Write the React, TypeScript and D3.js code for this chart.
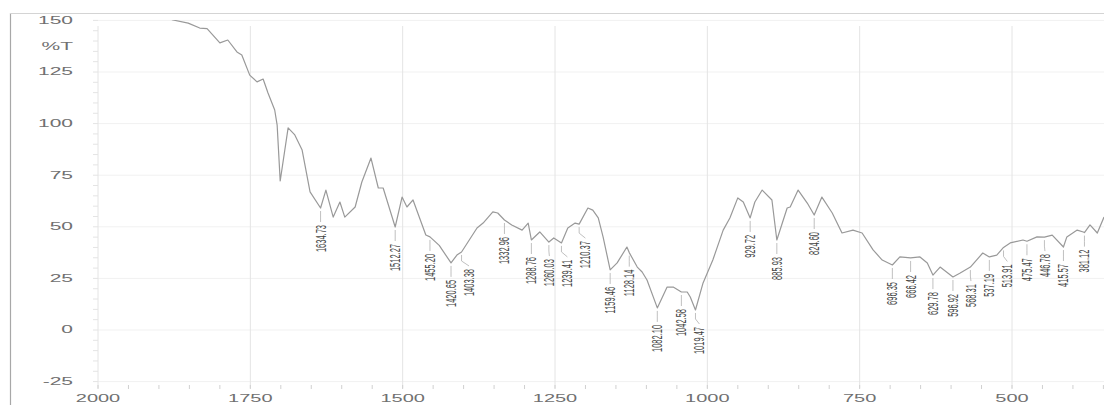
import React from "react";
import * as d3 from "d3";

// IR spectrum: wavenumber (cm-1) vs %T
const wavenumbers = [
  1900, 1877, 1852, 1833, 1821, 1800, 1787, 1772, 1764, 1751, 1739, 1729, 1721, 1710, 1706, 1701,
  1688, 1677, 1665, 1652, 1634.73, 1626, 1614, 1603, 1595, 1578, 1567, 1552, 1540, 1532, 1512.27,
  1501, 1493, 1483, 1462, 1455.2, 1440, 1420.65, 1411, 1403.38, 1378, 1368, 1352, 1344, 1332.96,
  1321, 1304, 1294, 1288.76, 1275, 1260.03, 1252, 1239.41, 1229, 1217, 1210.37, 1196, 1188, 1179,
  1171, 1159.46, 1148, 1132, 1128.14, 1115, 1107, 1099, 1082.1, 1066, 1056, 1042.58, 1033, 1028,
  1019.47, 1007, 991, 974, 963, 950, 941, 929.72, 922, 910, 894, 885.93, 869, 864, 851, 836, 824.6,
  812, 795, 779, 761, 746, 728, 713, 696.35, 684, 666.42, 651, 639, 629.78, 618, 596.92, 585,
  568.31, 548, 537.19, 525, 513.91, 503, 482, 475.47, 459, 446.78, 434, 415.57, 410, 393, 383,
  381.12, 372, 360, 349,
];

const transmittance = [
  153, 150.2, 148.7, 146.3, 146.0, 139.1, 140.5, 134.7, 133.2, 123.5, 120.2, 121.6, 114.8, 106.6,
  99.3, 72.2, 97.9, 94.5, 87.2, 66.9, 59.1, 67.8, 54.7, 62.0, 54.7, 59.6, 71.7, 83.3, 68.8, 68.8,
  49.9, 64.4, 59.6, 63.0, 46.0, 45.1, 41.0, 32.5, 36.3, 37.8, 49.4, 51.8, 57.2, 56.7, 53.3, 50.9,
  48.4, 51.8, 43.6, 47.5, 42.6, 44.6, 42.2, 49.4, 51.8, 51.3, 59.1, 58.1, 54.3, 45.0, 29.1, 32.5,
  40.2, 37.5, 30.5, 28.1, 24.2, 10.7, 20.8, 20.8, 18.4, 18.4, 16.0, 9.7, 22.8, 33.9, 48.4, 54.3,
  64.0, 62.0, 54.3, 62.0, 67.8, 63.0, 43.6, 59.1, 59.6, 67.8, 61.5, 55.7, 64.4, 56.7, 47.0, 48.4,
  47.0, 38.8, 33.9, 31.5, 35.4, 34.9, 35.4, 32.5, 26.6, 30.5, 25.7, 27.6, 30.5, 37.3, 35.4, 36.3,
  40.0, 42.2, 43.6, 43.0, 45.1, 45.0, 46.0, 40.2, 45.1, 48.4, 47.5, 47.2, 50.9, 47.0, 54.7,
];

// Peak-pick labels (cm-1)
const peakLabels = [
  "1634.73", "1512.27", "1455.20", "1420.65", "1403.38", "1332.96", "1288.76", "1260.03",
  "1239.41", "1210.37", "1159.46", "1128.14", "1082.10", "1042.58", "1019.47", "929.72", "885.93",
  "824.60", "696.35", "666.42", "629.78", "596.92", "568.31", "537.19", "513.91", "475.47",
  "446.78", "415.57", "381.12",
];

const xTickValues = [2000, 1750, 1500, 1250, 1000, 750, 500];
const yTickValues = [150, 125, 100, 75, 50, 25, 0, -25];
const yAxisTitle = "%T";

const WIDTH = 1104;
const HEIGHT = 405;
const PLOT_LEFT = 98;
const PLOT_TOP = 20;
const PLOT_BOTTOM = 388;
const LABEL_GAP = 18;
const FONT = "'Liberation Sans', Arial, sans-serif";

export default function App() {
  const x = d3.scaleLinear().domain([2000, 500]).range([PLOT_LEFT, 1012]);
  const y = d3.scaleLinear().domain([150, -25]).range([20.4, 381.6]);

  const points = wavenumbers.map((w, i) => [w, transmittance[i]] as [number, number]);
  const line = d3
    .line<[number, number]>()
    .x((d) => x(d[0]))
    .y((d) => y(d[1]));

  const minorX = d3.range(2000, 340, -50);
  const minorY = d3.range(150, -30, -5);

  // peak positions on the trace, with labels nudged apart when they crowd
  const peaks = peakLabels
    .map((label) => {
      const w = parseFloat(label);
      const idx = d3.minIndex(wavenumbers, (v) => Math.abs(v - w));
      return { label, px: x(w), py: y(transmittance[idx]), lx: 0 };
    })
    .sort((a, b) => a.px - b.px);
  let prev = -Infinity;
  for (const p of peaks) {
    p.lx = Math.max(p.px, prev + LABEL_GAP);
    prev = p.lx;
  }

  return (
    <svg
      width={WIDTH}
      height={HEIGHT}
      style={{ position: "absolute", left: 0, top: 0, background: "#fff" }}
      fontFamily={FONT}
    >
      <defs>
        <clipPath id="plot-clip">
          <rect x={PLOT_LEFT} y={PLOT_TOP} width={WIDTH - PLOT_LEFT} height={PLOT_BOTTOM - PLOT_TOP} />
        </clipPath>
      </defs>

      {/* outer frame */}
      <line x1={10.5} x2={10.5} y1={13} y2={HEIGHT} stroke="#a8a8a8" strokeWidth={1.2} />
      <line x1={10} x2={WIDTH} y1={13.5} y2={13.5} stroke="#d4d4d4" strokeWidth={1} />

      {/* horizontal grid */}
      {yTickValues.map((v) => (
        <line key={`hg${v}`} x1={PLOT_LEFT} x2={WIDTH} y1={y(v)} y2={y(v)} stroke="#f1f1f1" strokeWidth={1} />
      ))}

      {/* vertical grid */}
      {xTickValues.map((v) => (
        <line key={`vg${v}`} x1={x(v)} x2={x(v)} y1={26} y2={PLOT_BOTTOM} stroke="#e4e4e4" strokeWidth={1} />
      ))}

      {/* minor ticks */}
      {minorX.map((v) => (
        <line key={`mx${v}`} x1={x(v)} x2={x(v)} y1={PLOT_BOTTOM - 3} y2={PLOT_BOTTOM + 1} stroke="#d0d0d0" strokeWidth={1} />
      ))}
      {minorY.map((v) => (
        <line key={`my${v}`} x1={PLOT_LEFT - 5} x2={PLOT_LEFT} y1={y(v)} y2={y(v)} stroke="#e4e4e4" strokeWidth={1} />
      ))}

      {/* y tick labels */}
      {yTickValues.map((v) => (
        <text
          key={`yt${v}`}
          transform={`translate(73,${y(v)}) scale(2,1)`}
          textAnchor="end"
          dominantBaseline="central"
          fontSize={10.5}
          fill="#707070"
        >
          {v}
        </text>
      ))}
      <text
        transform={`translate(73,${y(137.5)}) scale(2,1)`}
        textAnchor="end"
        dominantBaseline="central"
        fontSize={10.5}
        fill="#707070"
      >
        {yAxisTitle}
      </text>

      {/* x tick labels */}
      {xTickValues.map((v) => (
        <text
          key={`xt${v}`}
          transform={`translate(${x(v)},402) scale(2,1)`}
          textAnchor="middle"
          fontSize={10}
          fill="#707070"
        >
          {v}
        </text>
      ))}

      {/* spectrum */}
      <g clipPath="url(#plot-clip)">
        <path d={line(points) ?? ""} fill="none" stroke="#999" strokeWidth={1.2} strokeLinejoin="round" />
      </g>

      {/* peak labels */}
      {peaks.map((p) => (
        <g key={p.label}>
          <polyline
            points={`${p.px},${p.py + 3} ${p.px},${p.py + 9} ${p.lx},${p.py + 14}`}
            fill="none"
            stroke="#b0b0b0"
            strokeWidth={0.8}
          />
          <text
            transform={`translate(${p.lx},${p.py + 17}) scale(1.9,1) rotate(-90)`}
            textAnchor="end"
            dominantBaseline="central"
            fontSize={7.5}
            fill="#444"
          >
            {p.label}
          </text>
        </g>
      ))}
    </svg>
  );
}
